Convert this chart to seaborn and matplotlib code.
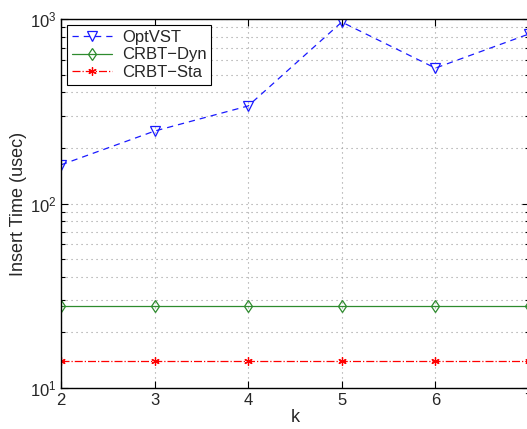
import matplotlib
matplotlib.use("Agg")
import matplotlib.pyplot as plt
import seaborn as sns
from matplotlib.ticker import LogLocator, NullFormatter

k_values = [2, 3, 4, 5, 6, 7]
optvst = [162, 247, 338, 963, 542, 830]
crbt_dyn = [27.8, 27.8, 27.8, 27.8, 27.8, 27.8]
crbt_sta = [14.0, 14.0, 14.0, 14.0, 14.0, 14.0]

sns.set_style("ticks")
plt.rcParams["font.family"] = ["Liberation Sans", "DejaVu Sans"]
plt.rcParams["mathtext.fontset"] = "custom"
plt.rcParams["mathtext.rm"] = "Liberation Sans"

fig = plt.figure(figsize=(5.27, 4.29), dpi=100)
ax = fig.add_axes([0.1157, 0.0956, 0.888, 0.860])

sns.lineplot(x=k_values, y=optvst, ax=ax, color="#1a1aff", linestyle=(0, (5, 4)),
             linewidth=0.9, marker="v", markersize=6.5, markerfacecolor="none",
             markeredgecolor="#1a1aff", markeredgewidth=0.9, label="OptVST")
sns.lineplot(x=k_values, y=crbt_dyn, ax=ax, color="#2e8b2e", linestyle="-",
             linewidth=0.9, marker="d", markersize=6, markerfacecolor="none",
             markeredgecolor="#2e8b2e", markeredgewidth=0.9, label="CRBT\u2212Dyn")
sns.lineplot(x=k_values, y=crbt_sta, ax=ax, color="#ff0000", linestyle="-.",
             linewidth=0.9, marker=(6, 2, 0), markersize=6,
             markeredgecolor="#ff0000", markeredgewidth=0.9, label="CRBT\u2212Sta")

ax.set_yscale("log")
ax.set_xlim(2, 7)
ax.set_ylim(10, 1000)
ax.set_xticks(k_values)
ax.yaxis.set_major_locator(LogLocator(base=10))
ax.yaxis.set_minor_locator(LogLocator(base=10, subs=range(2, 10)))
ax.yaxis.set_minor_formatter(NullFormatter())

grid_style = dict(linestyle=(0, (1, 3.5)), color="#9a9a9a", linewidth=0.8)
ax.grid(True, which="major", axis="both", **grid_style)
ax.grid(True, which="minor", axis="y", **grid_style)

ax.tick_params(which="both", direction="in", top=True, right=True, labelsize=12,
               color="black", width=0.8)
ax.tick_params(which="major", length=5)
ax.tick_params(which="minor", length=3)
for sp in ax.spines.values():
    sp.set_color("black")
    sp.set_linewidth(1.0)

ax.set_xlabel("k", fontsize=13, labelpad=1)
ax.set_ylabel("Insert Time (usec)", fontsize=13, labelpad=2)

leg = ax.legend(loc="upper left", fontsize=12, frameon=True, fancybox=False,
                edgecolor="black", framealpha=1, borderaxespad=0.35,
                handlelength=2.4, handletextpad=0.6, labelspacing=0.15,
                borderpad=0.3)
leg.get_frame().set_linewidth(0.8)

fig.savefig("out.png", dpi=100)
